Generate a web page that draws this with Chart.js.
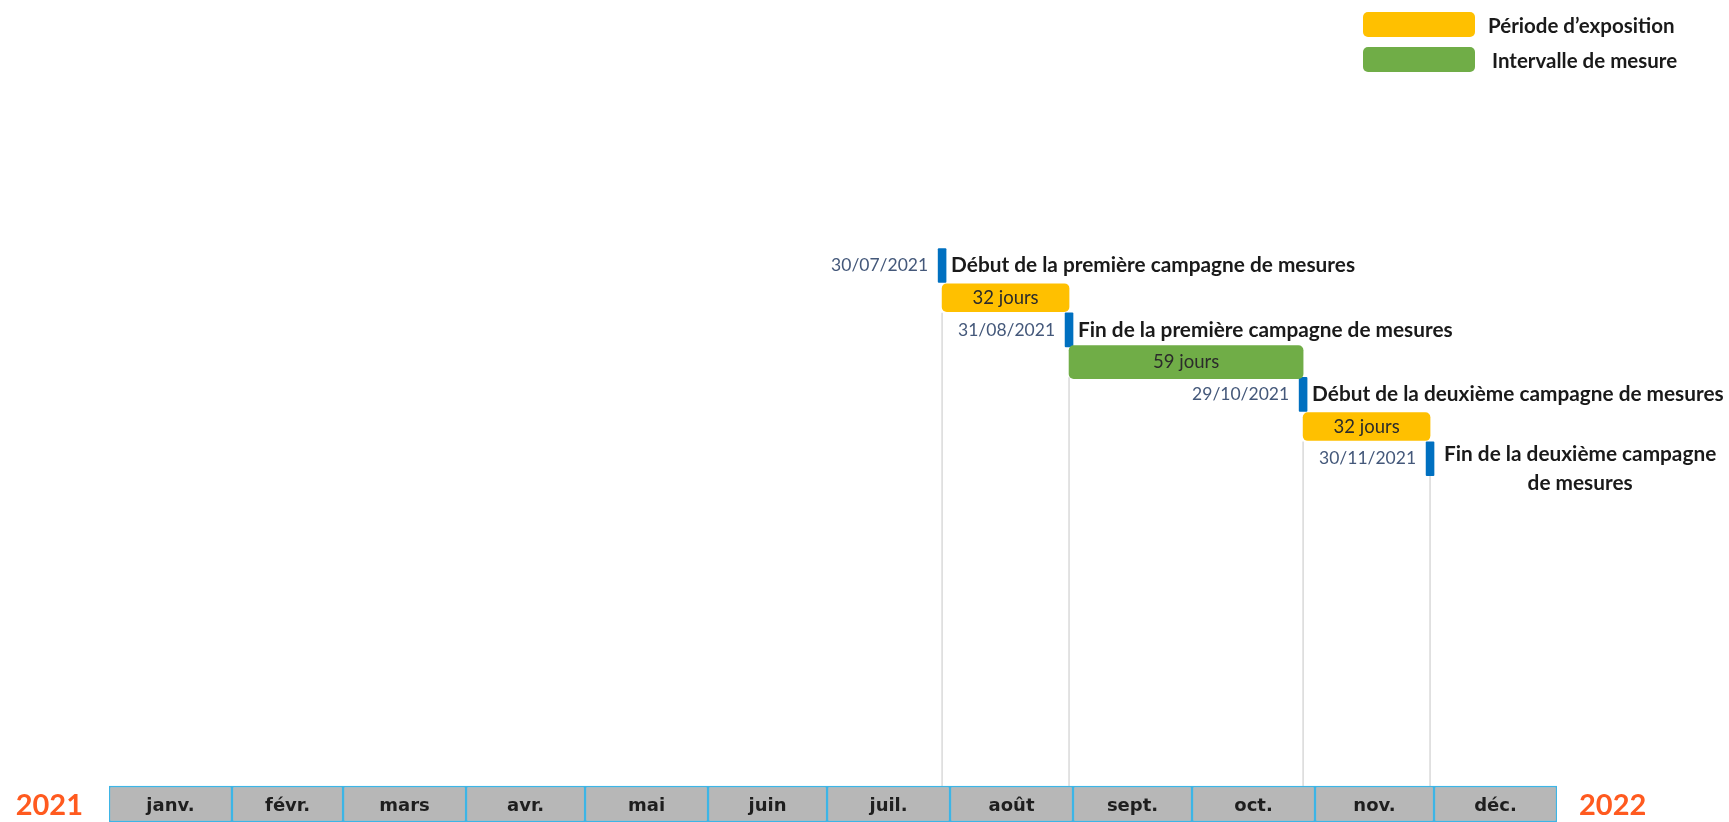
<!DOCTYPE html>
<html>
<head>
<meta charset="utf-8">
<script src="https://cdn.jsdelivr.net/npm/chart.js@4"></script>
<style>
  html, body { margin: 0; padding: 0; background: #fff; overflow: hidden; }
  #wrap { width: 1729px; height: 822px; }
</style>
</head>
<body>
<div id="wrap"><canvas id="chart"></canvas></div>
<script>
// Données du calendrier
const mois = ['janv.', 'févr.', 'mars', 'avr.', 'mai', 'juin', 'juil.', 'août', 'sept.', 'oct.', 'nov.', 'déc.'];
const annees = ['2021', '2022'];

const jalonsDates = ['30/07/2021', '31/08/2021', '29/10/2021', '30/11/2021'];
const jalonsTextes = [
    'Début de la première campagne de mesures',
    'Fin de la première campagne de mesures',
    'Début de la deuxième campagne de mesures',
    'Fin de la deuxième campagne\nde mesures'
];

const periodesDebut = ['30/07/2021', '31/08/2021', '29/10/2021'];
const periodesFin = ['31/08/2021', '29/10/2021', '30/11/2021'];
const periodesJours = [32, 59, 32];
const periodesType = ['exposition', 'intervalle', 'exposition'];

const legendeTextes = ['Période d’exposition', 'Intervalle de mesure'];

// Couleurs
const JAUNE = '#FFC000';
const VERT = '#70AD47';
const BLEU = '#0070C0';
const GRIS = '#B7B7B7';
const CADRE = '#3DB5E6';
const ORANGE = '#FF5A1F';

// jour de l'année (0 = 1er janvier 2021)
function jour(s) {
    const [d, m, y] = s.split('/').map(Number);
    return (Date.UTC(y, m - 1, d) - Date.UTC(2021, 0, 1)) / 86400000;
}

// lignes : jalon i -> 2i, période i -> 2i+1
const LIGNE_MOIS = 16.72;

const donneesJalons = jalonsDates.map((d, i) => ({ x: [jour(d) - 1, jour(d) + 1], y: 2 * i }));
const donneesExpo = [];
const donneesIntervalle = [];
periodesDebut.forEach((d, i) => {
    const p = { x: [jour(d), jour(periodesFin[i])], y: 2 * i + 1, label: periodesJours[i] + ' jours' };
    if (periodesType[i] === 'exposition') donneesExpo.push(p); else donneesIntervalle.push(p);
});
const donneesMois = mois.map((m, i) => ({
    x: [(Date.UTC(2021, i, 1) - Date.UTC(2021, 0, 1)) / 86400000, (Date.UTC(2021, i + 1, 1) - Date.UTC(2021, 0, 1)) / 86400000],
    y: LIGNE_MOIS,
    label: m
}));

const POLICE = 'Lato, "Open Sans", sans-serif';

// Lignes verticales, textes, légende
const decor = {
    id: 'decor',
    beforeDatasetsDraw(chart) {
        const { ctx, scales: { x, y } } = chart;
        ctx.save();
        ctx.strokeStyle = '#D9D9D9';
        ctx.lineWidth = 1.5;
        const basAxe = y.getPixelForValue(LIGNE_MOIS) - 18;
        jalonsDates.forEach((d, i) => {
            const px = x.getPixelForValue(jour(d));
            // la ligne part du bas de la période qui commence ici, sinon du jalon
            const k = periodesDebut.indexOf(d);
            const haut = k >= 0 ? y.getPixelForValue(2 * k + 1) + 15 : y.getPixelForValue(2 * i) + 17;
            ctx.beginPath();
            ctx.moveTo(px, haut);
            ctx.lineTo(px, basAxe);
            ctx.stroke();
        });
        ctx.restore();
    },
    afterDatasetsDraw(chart) {
        const { ctx, scales: { x, y }, chartArea } = chart;
        ctx.save();
        ctx.textBaseline = 'middle';

        // dates et libellés des jalons
        jalonsDates.forEach((d, i) => {
            const px = x.getPixelForValue(jour(d));
            const py = y.getPixelForValue(2 * i);
            ctx.font = '17.5px ' + POLICE;
            ctx.fillStyle = '#44587A';
            ctx.textAlign = 'right';
            ctx.fillText(d, px - 14, py);

            ctx.font = 'bold 20.8px ' + POLICE;
            ctx.fillStyle = '#1A1A1A';
            const lignes = jalonsTextes[i].split('\n');
            if (lignes.length === 1) {
                ctx.textAlign = 'left';
                ctx.fillText(lignes[0], px + 9, py);
            } else {
                const larg = Math.max(...lignes.map(l => ctx.measureText(l).width));
                const cx = px + 14 + larg / 2;
                ctx.textAlign = 'center';
                lignes.forEach((l, j) => ctx.fillText(l, cx, py - 4 + j * 29));
            }
        });

        // durées dans les barres
        ctx.font = '18.5px ' + POLICE;
        ctx.fillStyle = '#2B2B2B';
        ctx.textAlign = 'center';
        [...donneesExpo, ...donneesIntervalle].forEach(p => {
            ctx.fillText(p.label, x.getPixelForValue((p.x[0] + p.x[1]) / 2), y.getPixelForValue(p.y));
        });

        // mois
        ctx.font = 'bold 18px "DejaVu Sans", sans-serif';
        ctx.fillStyle = '#1E1E1E';
        donneesMois.forEach(p => {
            ctx.fillText(p.label, x.getPixelForValue((p.x[0] + p.x[1]) / 2), y.getPixelForValue(p.y) + 2);
        });

        // années
        const yAxe = y.getPixelForValue(LIGNE_MOIS) + 2;
        ctx.font = 'bold 29px ' + POLICE;
        ctx.fillStyle = ORANGE;
        ctx.textAlign = 'right';
        ctx.fillText(annees[0], chartArea.left - 26, yAxe);
        ctx.textAlign = 'left';
        ctx.fillText(annees[1], chartArea.right + 22, yAxe);

        // légende
        const lx = chartArea.right - 194;
        [JAUNE, VERT].forEach((c, i) => {
            const ly = 12 + i * 35;
            ctx.fillStyle = c;
            ctx.beginPath();
            ctx.roundRect(lx, ly, 112, 25, 5);
            ctx.fill();
            ctx.font = 'bold 20.5px ' + POLICE;
            ctx.fillStyle = '#1A1A1A';
            ctx.textAlign = 'left';
            ctx.fillText(legendeTextes[i], lx + 125 + i * 4, ly + 14);
        });
        ctx.restore();
    }
};

new Chart(document.getElementById('chart'), {
    type: 'bar',
    data: {
        datasets: [
            {
                label: 'Mois',
                data: donneesMois,
                backgroundColor: GRIS,
                borderColor: CADRE,
                borderWidth: 1.5,
                borderSkipped: false,
                barThickness: 36
            },
            {
                label: legendeTextes[0],
                data: donneesExpo,
                backgroundColor: JAUNE,
                borderRadius: 5,
                borderSkipped: false,
                barThickness: 28
            },
            {
                label: legendeTextes[1],
                data: donneesIntervalle,
                backgroundColor: VERT,
                borderRadius: 5,
                borderSkipped: false,
                barThickness: 33
            },
            {
                label: 'Jalons',
                data: donneesJalons,
                backgroundColor: BLEU,
                borderRadius: 1,
                borderSkipped: false,
                barThickness: 34
            }
        ]
    },
    options: {
        indexAxis: 'y',
        responsive: true,
        maintainAspectRatio: false,
        animation: false,
        grouped: false,
        layout: { padding: { left: 109, right: 172, top: 0, bottom: 0 } },
        scales: {
            x: { type: 'linear', min: 0, max: 365, display: false },
            y: { type: 'linear', min: -8.245, max: 17.28, reverse: true, offset: false, display: false }
        },
        plugins: {
            legend: { display: false },
            tooltip: { enabled: false }
        }
    },
    plugins: [decor]
});
</script>
</body>
</html>
